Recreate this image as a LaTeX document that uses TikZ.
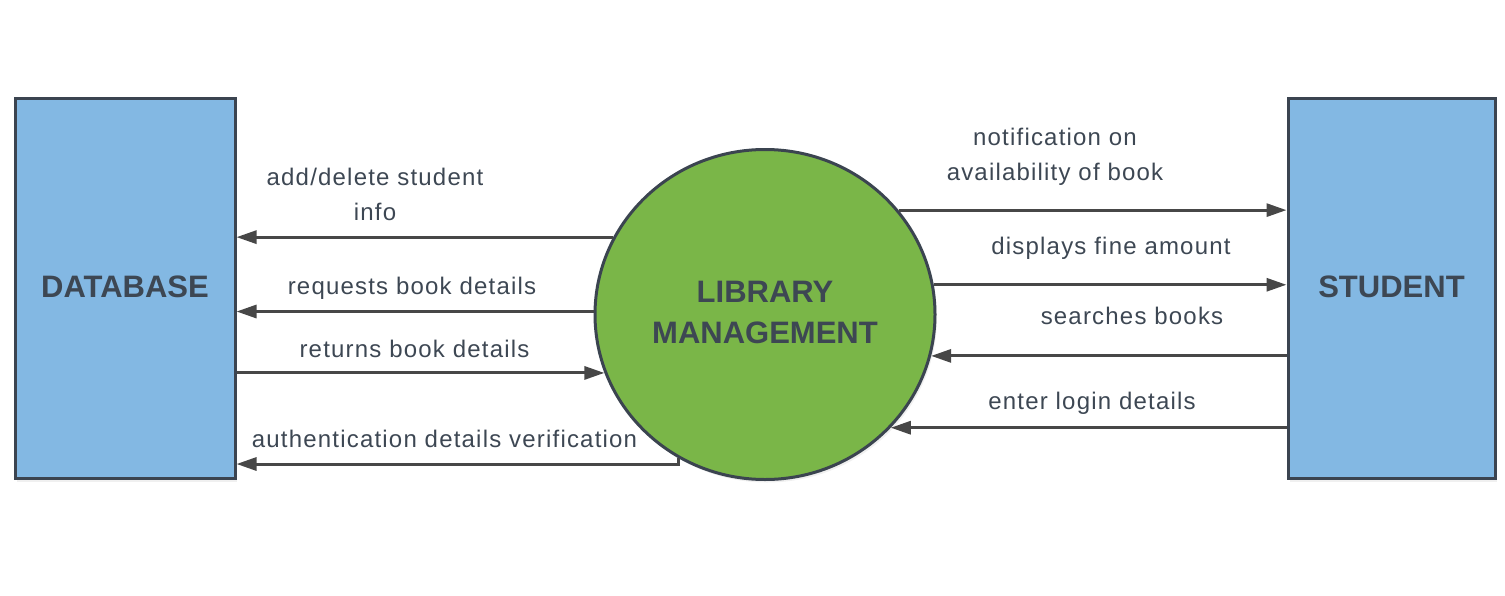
\documentclass[tikz,border=0pt]{standalone}
\usepackage{fontspec}
\setmainfont{Liberation Sans}
\newfontfamily\lblfont[LetterSpace=5]{Liberation Sans}
\usetikzlibrary{shapes.geometric,arrows.meta,shadows}
\definecolor{boxblue}{HTML}{83B8E3}
\definecolor{edge}{HTML}{3B4450}
\definecolor{procgreen}{HTML}{7AB648}
\definecolor{linegray}{HTML}{474747}
\definecolor{txt}{HTML}{3D4753}
\tikzset{
  entity/.style={draw=edge, line width=3pt, fill=boxblue, minimum width=220pt, minimum height=380pt,
    inner sep=0pt, text=txt, font=\fontsize{31}{41}\selectfont\bfseries,
    drop shadow={opacity=0.12, shadow xshift=2pt, shadow yshift=-3pt}},
  process/.style={ellipse, draw=edge, line width=3pt, fill=procgreen, minimum width=340pt, minimum height=330pt,
    inner sep=0pt, text=txt, align=center, font=\fontsize{31}{41}\selectfont\bfseries,
    drop shadow={opacity=0.12, shadow xshift=2pt, shadow yshift=-3pt}},
  lbl/.style={text=txt, align=center, inner sep=0pt, font=\lblfont\fontsize{24}{35}\selectfont},
  flow/.style={draw=linegray, line width=3pt, -{Triangle[length=20pt,width=13pt]}},
}
\begin{document}
\begin{tikzpicture}[x=1pt,y=-1pt]
\useasboundingbox (0,0) rectangle (1505,595);
\node[entity] (db) at (125,288.5) {\raisebox{4pt}{DATABASE}};
\node[entity, minimum width=207pt] (st) at (1391.5,288.5) {\raisebox{4pt}{STUDENT}};
\node[process] (lm) at (765,314.5) {\raisebox{4pt}{\begin{tabular}{@{}c@{}}LIBRARY\\[-0.3pt]MANAGEMENT\end{tabular}}};
% left flows
\draw[flow] (lm.153.5) -- (lm.153.5 -| db.east);
\draw[flow] (lm.179.5) -- (lm.179.5 -| db.east);
\draw[flow] (lm.200.9 -| db.east) -- (lm.200.9);
\coordinate (d4) at (db.east |- 0,464);
\draw[flow] (lm.239.25) |- (d4);
% right flows
\draw[flow] (lm.38) -- (lm.38 -| st.west);
\draw[flow] (lm.10.34) -- (lm.10.34 -| st.west);
\draw[flow] (lm.346.9 -| st.west) -- (lm.346.9);
\draw[flow] (lm.318.3 -| st.west) -- (lm.318.3);
% labels
\node[lbl] (t1) at (375,194.5) {add/delete student\\info};
\node[lbl] (t2) at (412,288) {requests book details};
\node[lbl] (t3) at (414.5,349) {returns book details};
\node[lbl] (t4) at (444.5,439) {authentication details verification};
\node[lbl] (t5) at (1055,157) {notification on\\availability of book};
\node[lbl] (t6) at (1111,248) {displays fine amount};
\node[lbl] (t7) at (1132,316) {searches books};
\node[lbl] (t8) at (1092,403) {enter login details};
\end{tikzpicture}
\end{document}
